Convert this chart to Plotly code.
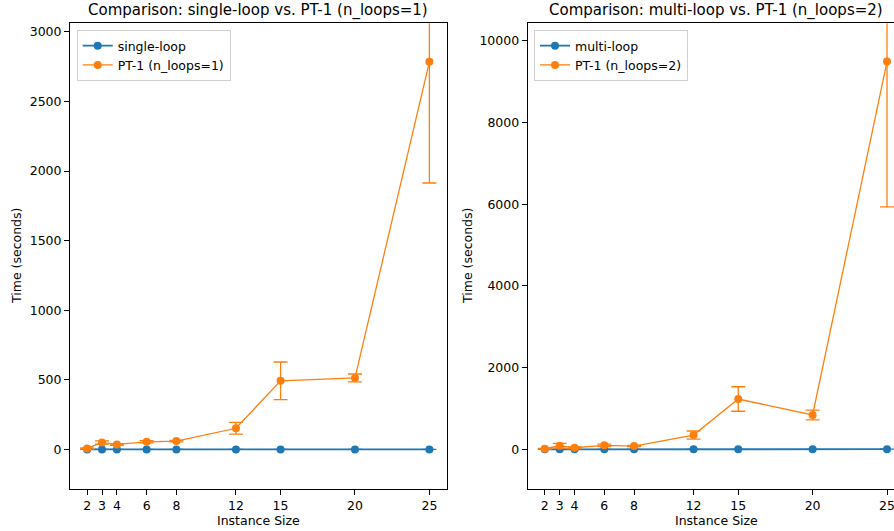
import plotly.graph_objects as go

# ---------------- data ----------------
instance_sizes = [2, 3, 4, 6, 8, 12, 15, 20, 25]

single_loop_mean = [0.02, 0.03, 0.03, 0.05, 0.06, 0.1, 0.15, 0.25, 0.4]
single_loop_err = [0.0, 0.0, 0.0, 0.0, 0.0, 0.0, 0.0, 0.0, 0.0]
pt1_n1_mean = [7, 50, 36, 55, 60, 152, 493, 514, 2784]
pt1_n1_err = [4, 12, 6, 8, 5, 42, 135, 28, 870]

multi_loop_mean = [0.05, 0.08, 0.1, 0.15, 0.2, 0.5, 1.0, 2.0, 5.0]
multi_loop_err = [0.0, 0.0, 0.0, 0.0, 0.0, 0.0, 0.0, 0.0, 0.0]
pt1_n2_mean = [15, 88, 39, 98, 81, 350, 1233, 842, 9492]
pt1_n2_err = [10, 60, 20, 30, 15, 100, 300, 120, 3554]

x_tick_vals = [2, 3, 4, 6, 8, 12, 15, 20, 25]
y1_ticks = [0, 500, 1000, 1500, 2000, 2500, 3000]
y2_ticks = [0, 2000, 4000, 6000, 8000, 10000]

BLUE = "#1f77b4"
ORANGE = "#ff7f0e"
W, H = 894, 531
FONT = "DejaVu Sans"


def px(p):
    return p / W


def py(p):
    return 1 - p / H


def series(x, y, err, color, name, xa, ya, legend, lw):
    return go.Scatter(
        x=x, y=y, name=name, mode="lines+markers",
        xaxis=xa, yaxis=ya, legend=legend,
        line=dict(color=color, width=lw),
        marker=dict(color=color, size=8),
        error_y=dict(type="data", array=err, visible=True, color=color,
                     thickness=1.3, width=7),
        cliponaxis=True,
    )


fig = go.Figure()
fig.add_trace(series(instance_sizes, single_loop_mean, single_loop_err, BLUE,
                     "single-loop", "x", "y", "legend", 1.8))
fig.add_trace(series(instance_sizes, pt1_n1_mean, pt1_n1_err, ORANGE,
                     "PT-1 (n_loops=1)", "x", "y", "legend", 1.3))
fig.add_trace(series(instance_sizes, multi_loop_mean, multi_loop_err, BLUE,
                     "multi-loop", "x2", "y2", "legend2", 1.8))
fig.add_trace(series(instance_sizes, pt1_n2_mean, pt1_n2_err, ORANGE,
                     "PT-1 (n_loops=2)", "x2", "y2", "legend2", 1.3))

axis_common = dict(showgrid=False, zeroline=False, showline=True,
                   linecolor="black", linewidth=1, ticks="outside",
                   ticklen=5, tickwidth=1, tickcolor="black", tickformat="d",
                   ticklabeloverflow="allow",
                   tickfont=dict(family=FONT, size=12.5, color="black"))

y_dom = [py(488.7), py(23.3)]

fig.update_layout(
    width=W, height=H,
    margin=dict(l=0, r=0, t=0, b=0),
    paper_bgcolor="white", plot_bgcolor="white",
    font=dict(family=FONT, size=12.5, color="black"),
    hovermode=False,
    xaxis=dict(domain=[px(70), px(446.5)], range=[0.85, 26.15],
               tickvals=x_tick_vals, mirror=True, anchor="y", **axis_common),
    yaxis=dict(domain=y_dom, range=[-282, 3061], tickvals=y1_ticks,
               mirror=True, anchor="x", **axis_common),
    xaxis2=dict(domain=[px(527.7), 1], range=[0.85, 25.47],
                tickvals=x_tick_vals, mirror=True, anchor="y2", **axis_common),
    yaxis2=dict(domain=y_dom, range=[-963, 10430], tickvals=y2_ticks,
                mirror=False, anchor="x2", **axis_common),
    legend=dict(x=px(76.7), y=py(30), xanchor="left", yanchor="top",
                bgcolor="rgba(255,255,255,0.8)", bordercolor="#d0d0d0",
                borderwidth=1, font=dict(family=FONT, size=12.5, color="black"),
                tracegroupgap=0),
    legend2=dict(x=px(534), y=py(30), xanchor="left", yanchor="top",
                 bgcolor="rgba(255,255,255,0.8)", bordercolor="#d0d0d0",
                 borderwidth=1, font=dict(family=FONT, size=12.5, color="black"),
                 tracegroupgap=0),
)

annotations = [
    dict(text="Comparison: single-loop vs. PT-1 (n_loops=1)", x=px(258.2),
         y=py(11), font=dict(size=15)),
    dict(text="Comparison: multi-loop vs. PT-1 (n_loops=2)", x=px(716),
         y=py(11), font=dict(size=15)),
    dict(text="Instance Size", x=px(258.2), y=py(520), font=dict(size=12.5)),
    dict(text="Instance Size", x=px(716), y=py(520), font=dict(size=12.5)),
    dict(text="Time (seconds)", x=px(17), y=py(256), textangle=-90,
         font=dict(size=12.5)),
    dict(text="Time (seconds)", x=px(468), y=py(256), textangle=-90,
         font=dict(size=12.5)),
]
for a in annotations:
    a.update(xref="paper", yref="paper", showarrow=False,
             xanchor="center", yanchor="middle")
    a["font"].update(family=FONT, color="black")
fig.update_layout(annotations=annotations)

fig.write_html(
    "out.html",
    config={"displayModeBar": False},
    post_script="document.body.style.margin='0';document.body.style.overflow='hidden';",
)
